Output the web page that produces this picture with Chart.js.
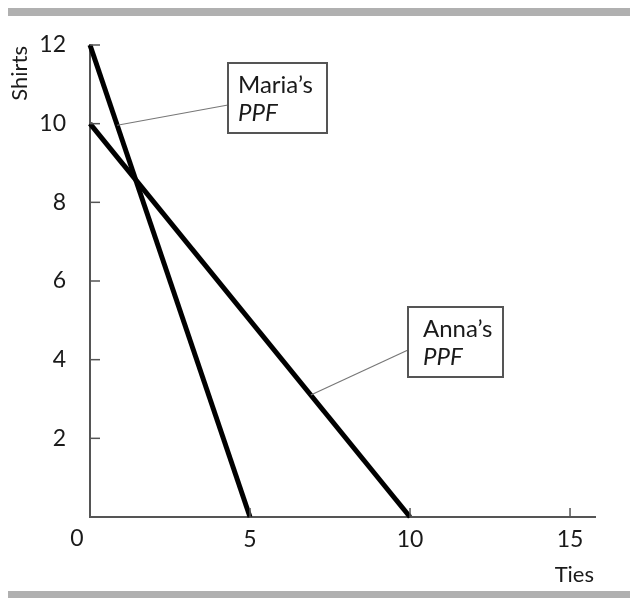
<!DOCTYPE html>
<html>
<head>
<meta charset="utf-8">
<script src="https://cdn.jsdelivr.net/npm/chart.js@4"></script>
<style>
  html, body { margin: 0; padding: 0; background: #fff; }
  #wrap { width: 630px; height: 598px; position: relative; }
</style>
</head>
<body>
<div id="wrap"><canvas id="c"></canvas></div>
<script>
// ---- data ----
const mariaTies = [0, 5];
const mariaShirts = [12, 0];
const annaTies = [0, 10];
const annaShirts = [10, 0];
const xTickValues = [0, 5, 10, 15];
const yTickValues = [0, 2, 4, 6, 8, 10, 12];
const xTitle = 'Ties';
const yTitle = 'Shirts';
const mariaLabel = ["Maria’s", 'PPF'];
const annaLabel = ["Anna’s", 'PPF'];

const FONT = 'Lato, "Open Sans", sans-serif';
const AXIS = '#555';
const TEXT = '#1a1a1a';

const toPts = (xs, ys) => xs.map((x, i) => ({ x: x, y: ys[i] }));

const decor = {
  id: 'decor',
  beforeDraw(chart) {
    const ctx = chart.ctx;
    ctx.save();
    ctx.fillStyle = '#fff';
    ctx.fillRect(0, 0, chart.width, chart.height);
    ctx.fillStyle = '#b0b0b0';
    ctx.fillRect(8, 8, chart.width - 8, 8);
    ctx.fillRect(8, 591, chart.width - 8, 7);
    ctx.restore();
  },
  afterDatasetsDraw(chart) {
    const ctx = chart.ctx;
    const xs = chart.scales.x, ys = chart.scales.y;
    const X = v => xs.getPixelForValue(v), Y = v => ys.getPixelForValue(v);
    ctx.save();
    // inside tick marks
    ctx.strokeStyle = AXIS;
    ctx.lineWidth = 1.5;
    yTickValues.filter(v => v > 0).forEach(v => {
      ctx.beginPath(); ctx.moveTo(X(0), Y(v)); ctx.lineTo(X(0) + 10, Y(v)); ctx.stroke();
    });
    xTickValues.filter(v => v > 0).forEach(v => {
      ctx.beginPath(); ctx.moveTo(X(v), Y(0)); ctx.lineTo(X(v), Y(0) - 9); ctx.stroke();
    });

    // origin label
    ctx.fillStyle = TEXT;
    ctx.font = '23px ' + FONT;
    ctx.textAlign = 'center';
    ctx.textBaseline = 'middle';
    ctx.fillText(String(xTickValues[0]), X(0) - 13, Y(0) + 22);

    // axis titles
    ctx.font = '22px ' + FONT;
    ctx.textAlign = 'right';
    ctx.textBaseline = 'alphabetic';
    ctx.fillText(xTitle, xs.right - 1, 582);
    ctx.save();
    ctx.translate(27, ys.top);
    ctx.rotate(-Math.PI / 2);
    ctx.textAlign = 'right';
    ctx.fillText(yTitle, -1, 0);
    ctx.restore();

    // label boxes with leader lines
    function box(lines, bx, by, bw, bh, tx, px, py, ly) {
      ctx.strokeStyle = '#777';
      ctx.lineWidth = 1.2;
      ctx.beginPath(); ctx.moveTo(bx, ly); ctx.lineTo(px, py); ctx.stroke();
      ctx.fillStyle = '#fff';
      ctx.fillRect(bx, by, bw, bh);
      ctx.strokeStyle = '#555';
      ctx.lineWidth = 2;
      ctx.strokeRect(bx, by, bw, bh);
      ctx.fillStyle = TEXT;
      ctx.textAlign = 'left';
      ctx.textBaseline = 'alphabetic';
      ctx.font = '24px ' + FONT;
      ctx.fillText(lines[0], tx, by + 30);
      ctx.font = 'italic 24px ' + FONT;
      ctx.fillText(lines[1], tx, by + 58);
    }
    const mT = 0.85, mS = 12 - 2.4 * mT;
    box(mariaLabel, 228, 63, 99, 70, 238, X(mT), Y(mS), 105);
    const aT = 6.9, aS = 10 - aT;
    box(annaLabel, 408, 307, 95, 70, 423, X(aT), Y(aS), 350);
    ctx.restore();
  }
};

const lineStyle = {
  showLine: true, borderColor: '#000', borderWidth: 5, pointRadius: 0,
  borderCapStyle: 'butt', fill: false, clip: false
};

new Chart(document.getElementById('c'), {
  type: 'scatter',
  data: {
    datasets: [
      Object.assign({ label: "Maria's PPF", data: toPts(mariaTies, mariaShirts) }, lineStyle),
      Object.assign({ label: "Anna's PPF", data: toPts(annaTies, annaShirts) }, lineStyle)
    ]
  },
  options: {
    responsive: true,
    maintainAspectRatio: false,
    animation: false,
    layout: { padding: { left: 0, top: 45, right: 35, bottom: 0 } },
    plugins: { legend: { display: false }, tooltip: { enabled: false } },
    scales: {
      x: {
        type: 'linear', min: 0, max: 15.78,
        grid: { display: false },
        border: { display: true, color: AXIS, width: 2 },
        afterBuildTicks: s => { s.ticks = xTickValues.map(v => ({ value: v })); },
        ticks: {
          color: TEXT, font: { family: FONT, size: 23 }, padding: 1,
          maxRotation: 0, autoSkip: false,
          callback: v => (v === 0 ? '' : String(v))
        },
        afterFit: s => { s.height = 81; }
      },
      y: {
        type: 'linear', min: 0, max: 12,
        grid: { display: false },
        border: { display: true, color: AXIS, width: 2 },
        afterBuildTicks: s => { s.ticks = yTickValues.map(v => ({ value: v })); },
        ticks: {
          color: TEXT, font: { family: FONT, size: 23 }, padding: 16,
          autoSkip: false,
          callback: v => (v === 0 ? '' : String(v))
        },
        afterFit: s => { s.width = 90; }
      }
    }
  },
  plugins: [decor]
});
</script>
</body>
</html>
